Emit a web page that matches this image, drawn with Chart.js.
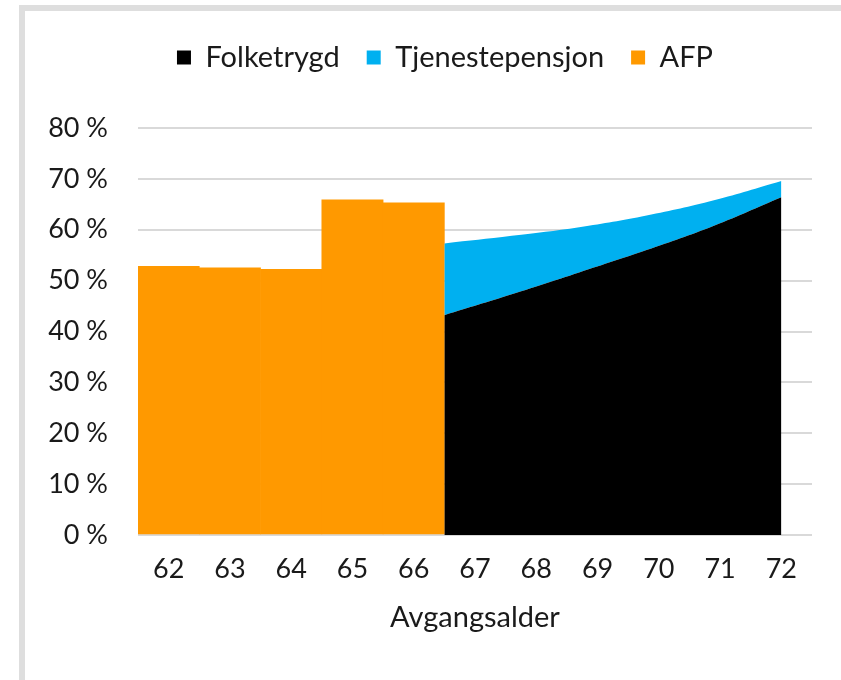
<!DOCTYPE html>
<html>
<head>
<meta charset="utf-8">
<script src="https://cdn.jsdelivr.net/npm/chart.js@4"></script>
<style>
  body { margin: 0; background: #fff; }
  #frame { position: absolute; left: 19px; top: 5px; width: 830px; height: 690px;
           border-left: 6px solid #dedede; border-top: 6px solid #dedede; }
  #wrap { position: absolute; left: 0; top: 0; width: 841px; height: 680px; }
</style>
</head>
<body>
<div id="frame"></div>
<div id="wrap"><canvas id="chart" width="841" height="680"></canvas></div>
<script>
// alder 62-66: AFP (stolper)
afpAges = [62, 63, 64, 65, 66];
afpValues = [52.8, 52.5, 52.2, 65.9, 65.3];

// alder 67-72: folketrygd + tjenestepensjon (areal)
areaAges = [67, 68, 69, 70, 71, 72];
folketrygd = [43.2, 47.3, 51.6, 56.0, 60.8, 66.4];
tjenestepensjon = [14.1, 11.5, 8.9, 6.8, 5.0, 3.2];

yTicks = [0, 10, 20, 30, 40, 50, 60, 70, 80];

FONT = "Lato, 'Open Sans', sans-serif";
context = document.getElementById("chart");

let total = folketrygd.map((v, i) => v + tjenestepensjon[i]);

// legend: fixed height, and centred a bit further right (like the original)
const legendBox = {
  id: 'legendBox',
  beforeInit(chart) {
    const fit = chart.legend.fit;
    chart.legend.fit = function () {
      fit.call(this);
      this.height = 112;
    };
  },
  afterLayout(chart) {
    chart.legend.left += 39;
    chart.legend.right += 39;
  }
};

let config = {
  data: {
    datasets: [{
      type: 'line',
      label: 'Folketrygd',
      xAxisID: 'x2',
      data: areaAges.map((a, i) => ({ x: a, y: folketrygd[i] })),
      backgroundColor: '#000000',
      borderColor: '#000000',
      borderWidth: 0,
      pointRadius: 0,
      tension: 0.4,
      fill: 'origin'
    }, {
      type: 'line',
      label: 'Tjenestepensjon',
      xAxisID: 'x2',
      data: areaAges.map((a, i) => ({ x: a, y: total[i] })),
      backgroundColor: '#00b0f0',
      borderColor: '#00b0f0',
      borderWidth: 0,
      pointRadius: 0,
      tension: 0.4,
      fill: '-1'
    }, {
      type: 'bar',
      label: 'AFP',
      xAxisID: 'x',
      data: afpAges.map((a, i) => ({ x: a, y: afpValues[i] })),
      backgroundColor: '#ff9900',
      borderWidth: 0,
      grouped: false,
      barPercentage: 1,
      categoryPercentage: 1
    }]
  },
  options: {
    responsive: false,
    animation: false,
    layout: { padding: { left: 0, right: 29, top: 16, bottom: 0 } },
    plugins: {
      legend: {
        display: true,
        position: 'top',
        labels: {
          color: '#1a1a1a',
          font: { family: FONT, size: 29 },
          boxWidth: 14,
          boxHeight: 14,
          padding: 27
        }
      },
      tooltip: { enabled: false }
    },
    scales: {
      x: {
        type: 'linear',
        offset: false,
        min: 61.5,
        max: 72.5,
        afterBuildTicks: axis => { axis.ticks = afpAges.concat(areaAges).map(v => ({ value: v })); },
        afterFit: axis => { axis.height = 145; },
        grid: { display: false, drawTicks: false, offset: false },
        border: { display: false },
        ticks: {
          color: '#1a1a1a',
          font: { family: FONT, size: 27 },
          padding: 18,
          maxRotation: 0,
          autoSkip: false
        },
        title: {
          display: true,
          text: 'Avgangsalder',
          color: '#1a1a1a',
          font: { family: FONT, size: 29 },
          padding: { top: 0, bottom: 45 }
        }
      },
      x2: {
        type: 'linear',
        display: false,
        min: 67 - 5 / 1.1,
        max: 72 + 0.5 / 1.1
      },
      y: {
        min: 0,
        max: 80,
        afterBuildTicks: axis => { axis.ticks = yTicks.map(v => ({ value: v })); },
        afterFit: axis => { axis.width = 138; },
        grid: { color: '#d9d9d9', lineWidth: 2, drawTicks: false },
        border: { display: false },
        ticks: {
          color: '#1a1a1a',
          font: { family: FONT, size: 27 },
          padding: 30,
          callback: v => v + ' %'
        }
      }
    }
  },
  plugins: [legendBox]
};

chart = new Chart(context, config);
</script>
</body>
</html>
